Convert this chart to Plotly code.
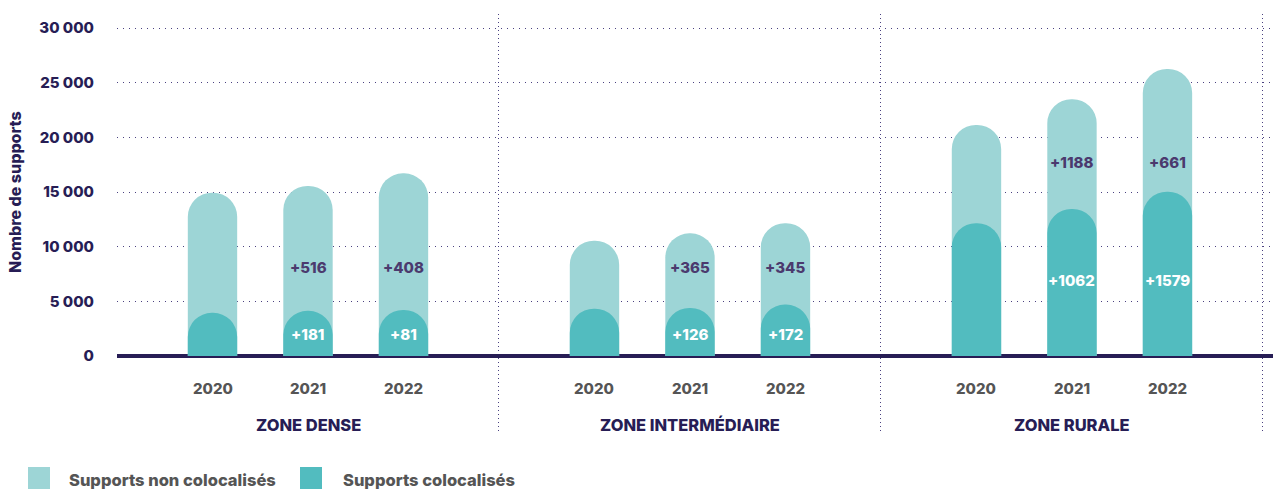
import plotly.graph_objects as go

# ---------------- data ----------------
zones = ["ZONE DENSE", "ZONE INTERMÉDIAIRE", "ZONE RURALE"]
years = ["2020", "2021", "2022"]

# Supports colocalisés (dark teal), per zone x year
coloc = [3950, 4130, 4210,
         4330, 4400, 4700,
         12140, 13450, 15030]
# Supports non colocalisés (light teal, stacked above)
non_coloc = [10980, 11420, 12500,
             6220, 6820, 7440,
             8990, 10030, 11220]

delta_non = ["", "+516", "+408", "", "+365", "+345", "", "+1188", "+661"]
delta_coloc = ["", "+181", "+81", "", "+126", "+172", "", "+1062", "+1579"]

# label heights per zone (data units)
label_y_non = [8050, 8050, 17660]
label_y_coloc = [2000, 2000, 6950]

y_ticks = [0, 5000, 10000, 15000, 20000, 25000, 30000]
y_ticktext = ["0", "5 000", "10 000", "15 000", "20 000", "25 000", "30 000"]

# ---------------- styles ----------------
LIGHT = "#9dd5d6"
DARK = "#52bcbf"
NAVY = "#271d55"
PURPLE = "#4b3a6e"
GRAY = "#555555"
GRID = "#4a4180"
FONT = "Inter"
WT = 800

xs = []
for zi in range(len(zones)):
    for yi in range(len(years)):
        xs.append(zi * 4 + yi + 1)
totals = [c + n for c, n in zip(coloc, non_coloc)]

XR = [0, 12.105]
YR = [-6951, 31281]
BW = 0.517
fig = go.Figure()
fig.add_trace(go.Bar(x=xs, y=totals, width=BW,
                     marker=dict(color=LIGHT, cornerradius="50%", line=dict(width=0)),
                     opacity=1, name="Supports non colocalisés", hoverinfo="skip"))
fig.add_trace(go.Bar(x=xs, y=coloc, width=BW, xaxis="x2", yaxis="y2",
                     marker=dict(color=DARK, cornerradius="50%", line=dict(width=0)),
                     opacity=1, name="Supports colocalisés", hoverinfo="skip"))

ann = []
for i, x in enumerate(xs):
    zi = i // 3
    if delta_non[i]:
        ann.append(dict(x=x, y=label_y_non[zi], xref="x", yref="y", text=delta_non[i], showarrow=False,
                        xanchor="center", yanchor="middle",
                        font=dict(family=FONT, size=15, color=PURPLE, weight=WT)))
    if delta_coloc[i]:
        ann.append(dict(x=x, y=label_y_coloc[zi], xref="x", yref="y", text=delta_coloc[i], showarrow=False,
                        xanchor="center", yanchor="middle",
                        font=dict(family=FONT, size=15, color="white", weight=WT)))
    ann.append(dict(x=x, y=0.105, xref="x", yref="paper", text=years[i % 3], showarrow=False,
                    xanchor="center", yanchor="middle",
                    font=dict(family=FONT, size=15, color=GRAY, weight=WT)))
for zi, z in enumerate(zones):
    ann.append(dict(x=zi * 4 + 2, y=0.017, xref="x", yref="paper", text=z, showarrow=False,
                    xanchor="center", yanchor="middle",
                    font=dict(family=FONT, size=16.5, color=NAVY, weight=WT)))

# y-axis title
ann.append(dict(x=-0.0882, y=15000, xref="paper", yref="y", text="Nombre de supports", textangle=-90,
                xanchor="center", yanchor="middle",
                showarrow=False, font=dict(family=FONT, size=16, color=NAVY, weight=WT)))

# custom legend
W, H, L, B = 1156, 418, 117, 432
def px(v):
    return (v - L) / W
def py(v):
    return (B - v) / H

shapes = []
legend_items = [("Supports non colocalisés", LIGHT, 28, 67), ("Supports colocalisés", DARK, 300, 341)]
for text, col, sx, tx in legend_items:
    shapes.append(dict(type="rect", xref="paper", yref="paper", x0=px(sx), x1=px(sx + 22), y0=py(490), y1=py(467),
                       fillcolor=col, line=dict(width=0)))
    ann.append(dict(x=px(tx), y=py(480), xref="paper", yref="paper", text=text, showarrow=False, xanchor="left",
                    yanchor="middle", font=dict(family=FONT, size=16.5, color=GRAY, weight=WT)))

fig.update_layout(
    width=1273, height=489,
    margin=dict(l=L, r=0, t=14, b=57),
    barmode="overlay",
    plot_bgcolor="white", paper_bgcolor="white",
    showlegend=False,
    annotations=ann, shapes=shapes,
    xaxis=dict(range=XR, tickvals=[0, 4, 8, 12], showticklabels=False, ticks="",
               showgrid=True, gridcolor=GRID, gridwidth=1, griddash="1px,3px", zeroline=False, showline=False),
    yaxis=dict(range=YR, tickvals=y_ticks, ticktext=y_ticktext, ticks="",
               showgrid=True, gridcolor=GRID, gridwidth=1, griddash="1px,5px",
               zeroline=True, zerolinecolor=NAVY, zerolinewidth=4, showline=False,
               ticklabelstandoff=22,
               tickfont=dict(family=FONT, size=15, color=NAVY, weight=WT)),
    xaxis2=dict(range=XR, overlaying="x", visible=False, showgrid=False, zeroline=False),
    yaxis2=dict(range=YR, overlaying="y", visible=False, showgrid=False, zeroline=False),
)

fig.write_html("out.html", config={"displayModeBar": False},
               post_script="document.body.style.margin='0';document.body.style.overflow='hidden';")
